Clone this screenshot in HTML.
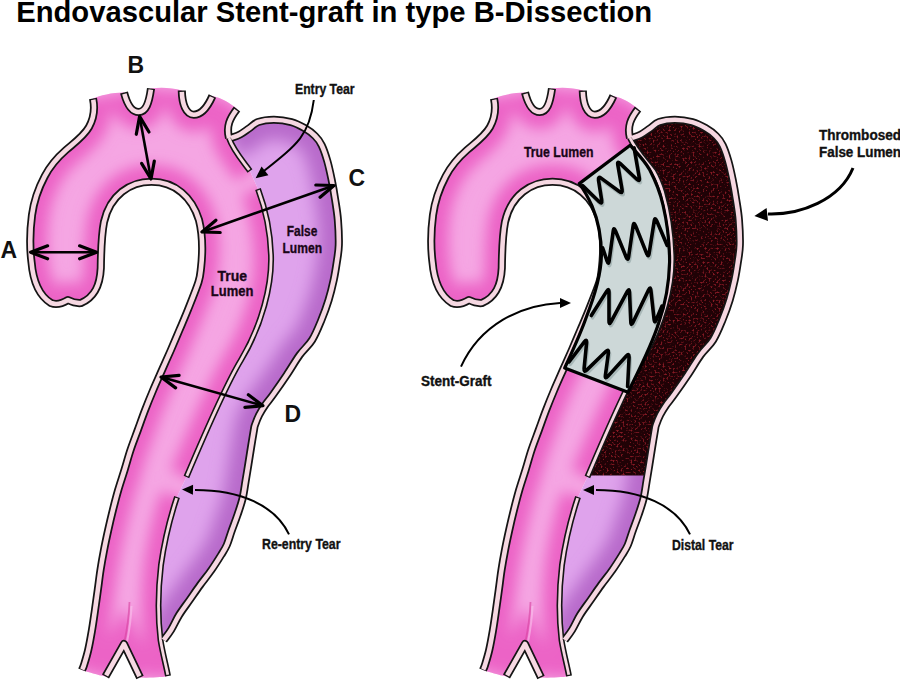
<!DOCTYPE html>
<html><head><meta charset="utf-8">
<style>
html,body{margin:0;padding:0;background:#fff;}
body{width:900px;height:681px;overflow:hidden;position:relative;}
svg{position:absolute;left:0;top:0;}
text{font-family:"Liberation Sans",sans-serif;font-weight:bold;}
</style></head>
<body>
<svg width="900" height="681" viewBox="0 0 900 681">
<defs>
  <filter id="b6" x="-20%" y="-20%" width="140%" height="140%"><feGaussianBlur stdDeviation="6"/></filter>
  <filter id="b7" x="-20%" y="-20%" width="140%" height="140%"><feGaussianBlur stdDeviation="7"/></filter>
  <filter id="b8" x="-20%" y="-20%" width="140%" height="140%"><feGaussianBlur stdDeviation="8"/></filter>
  <filter id="b1" x="-50%" y="-10%" width="200%" height="120%"><feGaussianBlur stdDeviation="0.7"/></filter>
  <filter id="b3" x="-20%" y="-20%" width="140%" height="140%"><feGaussianBlur stdDeviation="3"/></filter>
  <filter id="speck" x="0" y="0" width="100%" height="100%" color-interpolation-filters="sRGB">
    <feTurbulence type="fractalNoise" baseFrequency="0.5" numOctaves="2" seed="7" result="n"/>
    <feColorMatrix in="n" type="matrix" values="0 0 0 0 0.52  0 0 0 0 0.1  0 0 0 0 0.14  5 0 0 0 -2.65" result="d0"/>
    <feGaussianBlur in="d0" stdDeviation="0.45" result="dots"/>
    <feFlood flood-color="#200206" result="bg"/>
    <feMerge><feMergeNode in="bg"/><feMergeNode in="dots"/></feMerge>
  </filter>
  <path id="tl" d="M93,98.5 C100,95.5 112,92.5 124,92.5 C127,104 131,112 138.7,112 C146,112 149,103 151,88.5 C160,87 172,87.5 181.8,90.5 C182,104 186,114.7 193.8,114.7 C202,114.7 208,106 212.4,96 C222,98 230,103 237,109 C230,118 226,126 229,138 C233,150 242,160 250,171 L258,189 C264,205 270,225 271,255 C272,285 262,325 241,360 C224.6,387 203.9,435.7 186.4,477 L177,497 C171,515 164.5,540 161,565 C158,590 157.5,615 160.5,640 C163,655 166,665 168,676 C166,677 150,678 140,677.5 L124,646 L105.5,676.5 C98,675 88,672 82,670 C82.33,669.17 82.97,668.33 84,665 C85.03,661.67 86.87,655.83 88.2,650 C89.53,644.17 90.87,636.67 92,630 C93.13,623.33 94.03,616.67 95,610 C95.97,603.33 96.88,596.67 97.8,590 C98.72,583.33 99.47,576.67 100.5,570 C101.53,563.33 102.72,556.67 104,550 C105.28,543.33 106.72,536.67 108.2,530 C109.68,523.33 111.23,516.67 112.9,510 C114.57,503.33 116.27,496.67 118.2,490 C120.13,483.33 122.45,476.67 124.5,470 C126.55,463.33 128.28,456.67 130.5,450 C132.72,443.33 135.37,436.67 137.8,430 C140.23,423.33 142.53,416.67 145.1,410 C147.67,403.33 150.38,396.67 153.2,390 C156.02,383.33 159.05,376.67 162,370 C164.95,363.33 168,356.67 170.9,350 C173.8,343.33 176.58,336.67 179.4,330 C182.22,323.33 184.62,318 187.8,310 C190.98,302 196.3,289 198.5,282 C200.7,275 200.58,270.33 201,268 C203,250 202,232 199,220 C192,197 175,181.8 151.5,181.8 C130,181.8 110,195 104,222 C101.5,235 101,250 100.8,268 C100,285 95,297 81,303 C76,303.5 72,302 68,300 C63,303 56,305 51,303 C38,295 33,280 31.5,262 C30,250 30,230 32,215 C34,200 39,187 44.7,176.3 C50,166 58,157 66,150 C74,143 84,136 89,127 C94,118 95,108 93,98.5 Z"/>
  <path id="fl" d="M231,138 C232.5,137.42 237.02,136.08 240,134.5 C242.98,132.92 245.87,130.58 248.9,128.5 C251.93,126.42 254.02,123.47 258.2,122 C262.38,120.53 268.48,119.68 274,119.7 C279.52,119.72 286.22,120.7 291.3,122.1 C296.38,123.5 300.53,125.78 304.5,128.1 C308.47,130.42 312.23,133.15 315.1,136 C317.97,138.85 319.67,141.03 321.7,145.2 C323.73,149.37 325.63,155.2 327.3,161 C328.97,166.8 330.38,173.5 331.7,180 C333.02,186.5 334.17,193.33 335.2,200 C336.23,206.67 337.3,212.5 337.9,220 C338.5,227.5 338.98,238 338.8,245 C338.62,252 337.65,256.17 336.8,262 C335.95,267.83 335.07,273.67 333.7,280 C332.33,286.33 330.65,293.33 328.6,300 C326.55,306.67 324.15,313.33 321.4,320 C318.65,326.67 315.73,334.17 312.1,340 C308.47,345.83 303.83,349.17 299.6,355 C295.37,360.83 291.17,368.33 286.7,375 C282.23,381.67 276.38,390 272.8,395 C269.22,400 267.48,401.67 265.2,405 C262.92,408.33 260.8,411.67 259.1,415 C257.4,418.33 255.87,422.5 255,425 C254.13,427.5 254.55,426.33 253.9,430 C253.25,433.67 252.02,441.33 251.1,447 C250.18,452.67 249.32,458.33 248.4,464 C247.48,469.67 246.55,475.33 245.6,481 C244.65,486.67 244.03,492.42 242.7,498 C241.37,503.58 239.45,509 237.6,514.5 C235.75,520 233.4,525.92 231.6,531 C229.8,536.08 228.55,541 226.8,545 C225.05,549 223.67,550.83 221.1,555 C218.53,559.17 214.9,565 211.4,570 C207.9,575 203.73,580 200.1,585 C196.47,590 193.1,595 189.6,600 C186.1,605 182.2,610 179.1,615 C176,620 173.57,625.83 171,630 C168.43,634.17 164.92,638.33 163.7,640 C157.5,615 158,590 161,565 C164.5,540 171,515 177,497 L186.4,477 C203.9,435.7 224.6,387 241,360 C262,325 272,285 271,255 C270,225 264,205 258,189 L250,171 C242,160 233,150 229,138 Z"/>
  <clipPath id="ctl"><use href="#tl"/></clipPath>
  <clipPath id="cfl"><use href="#fl"/></clipPath>
  <clipPath id="cthr"><rect x="0" y="0" width="400" height="475.5"/></clipPath>
  <path id="outf" d="M231,138 C232.5,137.42 237.02,136.08 240,134.5 C242.98,132.92 245.87,130.58 248.9,128.5 C251.93,126.42 254.02,123.47 258.2,122 C262.38,120.53 268.48,119.68 274,119.7 C279.52,119.72 286.22,120.7 291.3,122.1 C296.38,123.5 300.53,125.78 304.5,128.1 C308.47,130.42 312.23,133.15 315.1,136 C317.97,138.85 319.67,141.03 321.7,145.2 C323.73,149.37 325.63,155.2 327.3,161 C328.97,166.8 330.38,173.5 331.7,180 C333.02,186.5 334.17,193.33 335.2,200 C336.23,206.67 337.3,212.5 337.9,220 C338.5,227.5 338.98,238 338.8,245 C338.62,252 337.65,256.17 336.8,262 C335.95,267.83 335.07,273.67 333.7,280 C332.33,286.33 330.65,293.33 328.6,300 C326.55,306.67 324.15,313.33 321.4,320 C318.65,326.67 315.73,334.17 312.1,340 C308.47,345.83 303.83,349.17 299.6,355 C295.37,360.83 291.17,368.33 286.7,375 C282.23,381.67 276.38,390 272.8,395 C269.22,400 267.48,401.67 265.2,405 C262.92,408.33 260.8,411.67 259.1,415 C257.4,418.33 255.87,422.5 255,425 C254.13,427.5 254.55,426.33 253.9,430 C253.25,433.67 252.02,441.33 251.1,447 C250.18,452.67 249.32,458.33 248.4,464 C247.48,469.67 246.55,475.33 245.6,481 C244.65,486.67 244.03,492.42 242.7,498 C241.37,503.58 239.45,509 237.6,514.5 C235.75,520 233.4,525.92 231.6,531 C229.8,536.08 228.55,541 226.8,545 C225.05,549 223.67,550.83 221.1,555 C218.53,559.17 214.9,565 211.4,570 C207.9,575 203.73,580 200.1,585 C196.47,590 193.1,595 189.6,600 C186.1,605 182.2,610 179.1,615 C176,620 173.57,625.83 171,630 C168.43,634.17 164.92,638.33 163.7,640"/>
  <path id="tledge" d="M93,98.5 C95,108 94,118 89,127 C84,136 74,143 66,150 C58,157 50,166 44.7,176.3 C39,187 34,200 32,215 C30,230 30,250 31.5,262 C33,280 38,295 51,303 C56,305 63,303 68,300 C72,302 76,303.5 81,303 C95,297 100,285 100.8,268 C101,250 101.5,235 104,222 C110,195 130,181.8 151.5,181.8 C175,181.8 192,197 199,220 C202,232 203,250 201,268 C200.58,270.33 200.7,275 198.5,282 C196.3,289 190.98,302 187.8,310 C184.62,318 182.22,323.33 179.4,330 C176.58,336.67 173.8,343.33 170.9,350 C168,356.67 164.95,363.33 162,370 C159.05,376.67 156.02,383.33 153.2,390 C150.38,396.67 147.67,403.33 145.1,410 C142.53,416.67 140.23,423.33 137.8,430 C135.37,436.67 132.72,443.33 130.5,450 C128.28,456.67 126.55,463.33 124.5,470 C122.45,476.67 120.13,483.33 118.2,490 C116.27,496.67 114.57,503.33 112.9,510 C111.23,516.67 109.68,523.33 108.2,530 C106.72,536.67 105.28,543.33 104,550 C102.72,556.67 101.53,563.33 100.5,570 C99.47,576.67 98.72,583.33 97.8,590 C96.88,596.67 95.97,603.33 95,610 C94.03,616.67 93.13,623.33 92,630 C90.87,636.67 89.53,644.17 88.2,650 C86.87,655.83 85.03,661.67 84,665 C82.97,668.33 82.33,669.17 82,670 M124,92.5 C127,104 131,112 138.7,112 C146,112 149,103 151,88.5 M181.8,90.5 C182,104 186,114.7 193.8,114.7 C202,114.7 208,106 212.4,96 M237,109 C230,118 226,126 229,138 C233,150 242,160 250,171 M258,189 C264,205 270,225 271,255 C272,285 262,325 241,360 C224.6,387 203.9,435.7 186.4,477 M177,497 C171,515 164.5,540 161,565 C158,590 157.5,615 160.5,640 C163,655 166,665 168,676 M105.5,676.5 L124,644 L140,677.5"/>
  <g id="lumens">
    <use href="#tl" fill="#f5a6e3"/>
    <g clip-path="url(#ctl)"><use href="#tledge" fill="none" stroke="#ec64c6" stroke-width="34" filter="url(#b7)"/></g>
    <use href="#fl" fill="#dfa3ec"/>
    <g clip-path="url(#cfl)"><use href="#outf" fill="none" stroke="#b86acb" stroke-width="40" filter="url(#b8)"/></g>
    <path d="M129.5,602 C129,618 126.5,632 124,644" fill="none" stroke="#d8409f" stroke-width="1.8" opacity="0.6" filter="url(#b1)"/><path d="M131.5,606 C131,620 129,632 127,642" fill="none" stroke="#fbc4ee" stroke-width="2" opacity="0.6" filter="url(#b1)"/>
  </g>
</defs>
<rect width="900" height="681" fill="#fff"/>
<text x="16.2" y="22" font-size="29.3" fill="#000" textLength="636" lengthAdjust="spacingAndGlyphs">Endovascular Stent-graft in type B-Dissection</text>

<!-- LEFT -->
<use href="#lumens"/>
<g fill="none" stroke-linejoin="round"><path d="M93,98.5 C95,108 94,118 89,127 C84,136 74,143 66,150 C58,157 50,166 44.7,176.3 C39,187 34,200 32,215 C30,230 30,250 31.5,262 C33,280 38,295 51,303 C56,305 63,303 68,300 C72,302 76,303.5 81,303 C95,297 100,285 100.8,268 C101,250 101.5,235 104,222 C110,195 130,181.8 151.5,181.8 C175,181.8 192,197 199,220 C202,232 203,250 201,268 C200.58,270.33 200.7,275 198.5,282 C196.3,289 190.98,302 187.8,310 C184.62,318 182.22,323.33 179.4,330 C176.58,336.67 173.8,343.33 170.9,350 C168,356.67 164.95,363.33 162,370 C159.05,376.67 156.02,383.33 153.2,390 C150.38,396.67 147.67,403.33 145.1,410 C142.53,416.67 140.23,423.33 137.8,430 C135.37,436.67 132.72,443.33 130.5,450 C128.28,456.67 126.55,463.33 124.5,470 C122.45,476.67 120.13,483.33 118.2,490 C116.27,496.67 114.57,503.33 112.9,510 C111.23,516.67 109.68,523.33 108.2,530 C106.72,536.67 105.28,543.33 104,550 C102.72,556.67 101.53,563.33 100.5,570 C99.47,576.67 98.72,583.33 97.8,590 C96.88,596.67 95.97,603.33 95,610 C94.03,616.67 93.13,623.33 92,630 C90.87,636.67 89.53,644.17 88.2,650 C86.87,655.83 85.03,661.67 84,665 C82.97,668.33 82.33,669.17 82,670" stroke="#151515" stroke-width="8.1"/><path d="M124,92.5 C127,104 131,112 138.7,112 C146,112 149,103 151,88.5" stroke="#151515" stroke-width="8.1"/><path d="M181.8,90.5 C182,104 186,114.7 193.8,114.7 C202,114.7 208,106 212.4,96" stroke="#151515" stroke-width="8.1"/><path d="M237,109 C230,118 226,126 229,138" stroke="#151515" stroke-width="8.1"/><path d="M229,138 C233,150 242,160 250,171" stroke="#151515" stroke-width="6.0"/><path d="M258,189 C264,205 270,225 271,255 C272,285 262,325 241,360 C224.6,387 203.9,435.7 186.4,477" stroke="#151515" stroke-width="6.0"/><path d="M231,138 C232.5,137.42 237.02,136.08 240,134.5 C242.98,132.92 245.87,130.58 248.9,128.5 C251.93,126.42 254.02,123.47 258.2,122 C262.38,120.53 268.48,119.68 274,119.7 C279.52,119.72 286.22,120.7 291.3,122.1 C296.38,123.5 300.53,125.78 304.5,128.1 C308.47,130.42 312.23,133.15 315.1,136 C317.97,138.85 319.67,141.03 321.7,145.2 C323.73,149.37 325.63,155.2 327.3,161 C328.97,166.8 330.38,173.5 331.7,180 C333.02,186.5 334.17,193.33 335.2,200 C336.23,206.67 337.3,212.5 337.9,220 C338.5,227.5 338.98,238 338.8,245 C338.62,252 337.65,256.17 336.8,262 C335.95,267.83 335.07,273.67 333.7,280 C332.33,286.33 330.65,293.33 328.6,300 C326.55,306.67 324.15,313.33 321.4,320 C318.65,326.67 315.73,334.17 312.1,340 C308.47,345.83 303.83,349.17 299.6,355 C295.37,360.83 291.17,368.33 286.7,375 C282.23,381.67 276.38,390 272.8,395 C269.22,400 267.48,401.67 265.2,405 C262.92,408.33 260.8,411.67 259.1,415 C257.4,418.33 255.87,422.5 255,425 C254.13,427.5 254.55,426.33 253.9,430 C253.25,433.67 252.02,441.33 251.1,447 C250.18,452.67 249.32,458.33 248.4,464 C247.48,469.67 246.55,475.33 245.6,481 C244.65,486.67 244.03,492.42 242.7,498 C241.37,503.58 239.45,509 237.6,514.5 C235.75,520 233.4,525.92 231.6,531 C229.8,536.08 228.55,541 226.8,545 C225.05,549 223.67,550.83 221.1,555 C218.53,559.17 214.9,565 211.4,570 C207.9,575 203.73,580 200.1,585 C196.47,590 193.1,595 189.6,600 C186.1,605 182.2,610 179.1,615 C176,620 173.57,625.83 171,630 C168.43,634.17 164.92,638.33 163.7,640" stroke="#151515" stroke-width="8.1"/><path d="M177,497 C171,515 164.5,540 161,565 C158,590 157.5,615 160.5,640 C163,655 166,665 168,676" stroke="#151515" stroke-width="6.0"/><path d="M105.5,676.5 L124,644 L140,677.5" stroke="#151515" stroke-width="8.1"/><path d="M93,98.5 C95,108 94,118 89,127 C84,136 74,143 66,150 C58,157 50,166 44.7,176.3 C39,187 34,200 32,215 C30,230 30,250 31.5,262 C33,280 38,295 51,303 C56,305 63,303 68,300 C72,302 76,303.5 81,303 C95,297 100,285 100.8,268 C101,250 101.5,235 104,222 C110,195 130,181.8 151.5,181.8 C175,181.8 192,197 199,220 C202,232 203,250 201,268 C200.58,270.33 200.7,275 198.5,282 C196.3,289 190.98,302 187.8,310 C184.62,318 182.22,323.33 179.4,330 C176.58,336.67 173.8,343.33 170.9,350 C168,356.67 164.95,363.33 162,370 C159.05,376.67 156.02,383.33 153.2,390 C150.38,396.67 147.67,403.33 145.1,410 C142.53,416.67 140.23,423.33 137.8,430 C135.37,436.67 132.72,443.33 130.5,450 C128.28,456.67 126.55,463.33 124.5,470 C122.45,476.67 120.13,483.33 118.2,490 C116.27,496.67 114.57,503.33 112.9,510 C111.23,516.67 109.68,523.33 108.2,530 C106.72,536.67 105.28,543.33 104,550 C102.72,556.67 101.53,563.33 100.5,570 C99.47,576.67 98.72,583.33 97.8,590 C96.88,596.67 95.97,603.33 95,610 C94.03,616.67 93.13,623.33 92,630 C90.87,636.67 89.53,644.17 88.2,650 C86.87,655.83 85.03,661.67 84,665 C82.97,668.33 82.33,669.17 82,670" stroke="#f6d8e2" stroke-width="4.6" stroke-dasharray="0 1.30 951.98 500"/><path d="M124,92.5 C127,104 131,112 138.7,112 C146,112 149,103 151,88.5" stroke="#f6d8e2" stroke-width="4.6" stroke-dasharray="0 1.30 52.37 500"/><path d="M181.8,90.5 C182,104 186,114.7 193.8,114.7 C202,114.7 208,106 212.4,96" stroke="#f6d8e2" stroke-width="4.6" stroke-dasharray="0 1.30 54.78 500"/><path d="M237,109 C230,118 226,126 229,138" stroke="#f6d8e2" stroke-width="4.6" stroke-dasharray="0 1.30 30.08 500"/><path d="M229,138 C233,150 242,160 250,171" stroke="#f6d8e2" stroke-width="2.8" stroke-dasharray="0 0.00 37.99 500"/><path d="M258,189 C264,205 270,225 271,255 C272,285 262,325 241,360 C224.6,387 203.9,435.7 186.4,477" stroke="#f6d8e2" stroke-width="2.8" stroke-dasharray="0 1.30 304.77 500"/><path d="M231,138 C232.5,137.42 237.02,136.08 240,134.5 C242.98,132.92 245.87,130.58 248.9,128.5 C251.93,126.42 254.02,123.47 258.2,122 C262.38,120.53 268.48,119.68 274,119.7 C279.52,119.72 286.22,120.7 291.3,122.1 C296.38,123.5 300.53,125.78 304.5,128.1 C308.47,130.42 312.23,133.15 315.1,136 C317.97,138.85 319.67,141.03 321.7,145.2 C323.73,149.37 325.63,155.2 327.3,161 C328.97,166.8 330.38,173.5 331.7,180 C333.02,186.5 334.17,193.33 335.2,200 C336.23,206.67 337.3,212.5 337.9,220 C338.5,227.5 338.98,238 338.8,245 C338.62,252 337.65,256.17 336.8,262 C335.95,267.83 335.07,273.67 333.7,280 C332.33,286.33 330.65,293.33 328.6,300 C326.55,306.67 324.15,313.33 321.4,320 C318.65,326.67 315.73,334.17 312.1,340 C308.47,345.83 303.83,349.17 299.6,355 C295.37,360.83 291.17,368.33 286.7,375 C282.23,381.67 276.38,390 272.8,395 C269.22,400 267.48,401.67 265.2,405 C262.92,408.33 260.8,411.67 259.1,415 C257.4,418.33 255.87,422.5 255,425 C254.13,427.5 254.55,426.33 253.9,430 C253.25,433.67 252.02,441.33 251.1,447 C250.18,452.67 249.32,458.33 248.4,464 C247.48,469.67 246.55,475.33 245.6,481 C244.65,486.67 244.03,492.42 242.7,498 C241.37,503.58 239.45,509 237.6,514.5 C235.75,520 233.4,525.92 231.6,531 C229.8,536.08 228.55,541 226.8,545 C225.05,549 223.67,550.83 221.1,555 C218.53,559.17 214.9,565 211.4,570 C207.9,575 203.73,580 200.1,585 C196.47,590 193.1,595 189.6,600 C186.1,605 182.2,610 179.1,615 C176,620 173.57,625.83 171,630 C168.43,634.17 164.92,638.33 163.7,640" stroke="#f6d8e2" stroke-width="4.6"/><path d="M177,497 C171,515 164.5,540 161,565 C158,590 157.5,615 160.5,640 C163,655 166,665 168,676" stroke="#f6d8e2" stroke-width="2.8" stroke-dasharray="0 1.30 179.31 500"/><path d="M105.5,676.5 L124,644 L140,677.5" stroke="#f6d8e2" stroke-width="4.6" stroke-dasharray="0 1.30 71.92 500"/></g>

<!-- RIGHT -->
<g transform="translate(401,0)">
  <use href="#lumens"/>
  <g clip-path="url(#cthr)"><g clip-path="url(#cfl)"><rect x="150" y="100" width="210" height="380" filter="url(#speck)"/></g></g>
  <g fill="none" stroke-linejoin="round"><path d="M93,98.5 C95,108 94,118 89,127 C84,136 74,143 66,150 C58,157 50,166 44.7,176.3 C39,187 34,200 32,215 C30,230 30,250 31.5,262 C33,280 38,295 51,303 C56,305 63,303 68,300 C72,302 76,303.5 81,303 C95,297 100,285 100.8,268 C101,250 101.5,235 104,222 C110,195 130,181.8 151.5,181.8 C175,181.8 192,197 199,220 C202,232 203,250 201,268 C200.58,270.33 200.7,275 198.5,282 C196.3,289 190.98,302 187.8,310 C184.62,318 182.22,323.33 179.4,330 C176.58,336.67 173.8,343.33 170.9,350 C168,356.67 164.95,363.33 162,370 C159.05,376.67 156.02,383.33 153.2,390 C150.38,396.67 147.67,403.33 145.1,410 C142.53,416.67 140.23,423.33 137.8,430 C135.37,436.67 132.72,443.33 130.5,450 C128.28,456.67 126.55,463.33 124.5,470 C122.45,476.67 120.13,483.33 118.2,490 C116.27,496.67 114.57,503.33 112.9,510 C111.23,516.67 109.68,523.33 108.2,530 C106.72,536.67 105.28,543.33 104,550 C102.72,556.67 101.53,563.33 100.5,570 C99.47,576.67 98.72,583.33 97.8,590 C96.88,596.67 95.97,603.33 95,610 C94.03,616.67 93.13,623.33 92,630 C90.87,636.67 89.53,644.17 88.2,650 C86.87,655.83 85.03,661.67 84,665 C82.97,668.33 82.33,669.17 82,670" stroke="#151515" stroke-width="8.1"/><path d="M124,92.5 C127,104 131,112 138.7,112 C146,112 149,103 151,88.5" stroke="#151515" stroke-width="8.1"/><path d="M181.8,90.5 C182,104 186,114.7 193.8,114.7 C202,114.7 208,106 212.4,96" stroke="#151515" stroke-width="8.1"/><path d="M237,109 C230,118 226,126 229,138" stroke="#151515" stroke-width="8.1"/><path d="M229,138 C235,151 245,161 252.5,171 C256,177 259,184 261.5,192 C265.5,206 270,225 271,255 C272,285 262,325 241,360 C224.6,387 203.9,435.7 186.4,477" stroke="#151515" stroke-width="6.0"/><path d="M231,138 C232.5,137.42 237.02,136.08 240,134.5 C242.98,132.92 245.87,130.58 248.9,128.5 C251.93,126.42 254.02,123.47 258.2,122 C262.38,120.53 268.48,119.68 274,119.7 C279.52,119.72 286.22,120.7 291.3,122.1 C296.38,123.5 300.53,125.78 304.5,128.1 C308.47,130.42 312.23,133.15 315.1,136 C317.97,138.85 319.67,141.03 321.7,145.2 C323.73,149.37 325.63,155.2 327.3,161 C328.97,166.8 330.38,173.5 331.7,180 C333.02,186.5 334.17,193.33 335.2,200 C336.23,206.67 337.3,212.5 337.9,220 C338.5,227.5 338.98,238 338.8,245 C338.62,252 337.65,256.17 336.8,262 C335.95,267.83 335.07,273.67 333.7,280 C332.33,286.33 330.65,293.33 328.6,300 C326.55,306.67 324.15,313.33 321.4,320 C318.65,326.67 315.73,334.17 312.1,340 C308.47,345.83 303.83,349.17 299.6,355 C295.37,360.83 291.17,368.33 286.7,375 C282.23,381.67 276.38,390 272.8,395 C269.22,400 267.48,401.67 265.2,405 C262.92,408.33 260.8,411.67 259.1,415 C257.4,418.33 255.87,422.5 255,425 C254.13,427.5 254.55,426.33 253.9,430 C253.25,433.67 252.02,441.33 251.1,447 C250.18,452.67 249.32,458.33 248.4,464 C247.48,469.67 246.55,475.33 245.6,481 C244.65,486.67 244.03,492.42 242.7,498 C241.37,503.58 239.45,509 237.6,514.5 C235.75,520 233.4,525.92 231.6,531 C229.8,536.08 228.55,541 226.8,545 C225.05,549 223.67,550.83 221.1,555 C218.53,559.17 214.9,565 211.4,570 C207.9,575 203.73,580 200.1,585 C196.47,590 193.1,595 189.6,600 C186.1,605 182.2,610 179.1,615 C176,620 173.57,625.83 171,630 C168.43,634.17 164.92,638.33 163.7,640" stroke="#151515" stroke-width="8.1"/><path d="M177,497 C171,515 164.5,540 161,565 C158,590 157.5,615 160.5,640 C163,655 166,665 168,676" stroke="#151515" stroke-width="6.0"/><path d="M105.5,676.5 L124,644 L140,677.5" stroke="#151515" stroke-width="8.1"/><path d="M93,98.5 C95,108 94,118 89,127 C84,136 74,143 66,150 C58,157 50,166 44.7,176.3 C39,187 34,200 32,215 C30,230 30,250 31.5,262 C33,280 38,295 51,303 C56,305 63,303 68,300 C72,302 76,303.5 81,303 C95,297 100,285 100.8,268 C101,250 101.5,235 104,222 C110,195 130,181.8 151.5,181.8 C175,181.8 192,197 199,220 C202,232 203,250 201,268 C200.58,270.33 200.7,275 198.5,282 C196.3,289 190.98,302 187.8,310 C184.62,318 182.22,323.33 179.4,330 C176.58,336.67 173.8,343.33 170.9,350 C168,356.67 164.95,363.33 162,370 C159.05,376.67 156.02,383.33 153.2,390 C150.38,396.67 147.67,403.33 145.1,410 C142.53,416.67 140.23,423.33 137.8,430 C135.37,436.67 132.72,443.33 130.5,450 C128.28,456.67 126.55,463.33 124.5,470 C122.45,476.67 120.13,483.33 118.2,490 C116.27,496.67 114.57,503.33 112.9,510 C111.23,516.67 109.68,523.33 108.2,530 C106.72,536.67 105.28,543.33 104,550 C102.72,556.67 101.53,563.33 100.5,570 C99.47,576.67 98.72,583.33 97.8,590 C96.88,596.67 95.97,603.33 95,610 C94.03,616.67 93.13,623.33 92,630 C90.87,636.67 89.53,644.17 88.2,650 C86.87,655.83 85.03,661.67 84,665 C82.97,668.33 82.33,669.17 82,670" stroke="#f6d8e2" stroke-width="4.6" stroke-dasharray="0 1.30 951.98 500"/><path d="M124,92.5 C127,104 131,112 138.7,112 C146,112 149,103 151,88.5" stroke="#f6d8e2" stroke-width="4.6" stroke-dasharray="0 1.30 52.37 500"/><path d="M181.8,90.5 C182,104 186,114.7 193.8,114.7 C202,114.7 208,106 212.4,96" stroke="#f6d8e2" stroke-width="4.6" stroke-dasharray="0 1.30 54.78 500"/><path d="M237,109 C230,118 226,126 229,138" stroke="#f6d8e2" stroke-width="4.6" stroke-dasharray="0 1.30 30.08 500"/><path d="M229,138 C235,151 245,161 252.5,171 C256,177 259,184 261.5,192 C265.5,206 270,225 271,255 C272,285 262,325 241,360 C224.6,387 203.9,435.7 186.4,477" stroke="#f6d8e2" stroke-width="2.8" stroke-dasharray="0 0.00 365.88 500"/><path d="M231,138 C232.5,137.42 237.02,136.08 240,134.5 C242.98,132.92 245.87,130.58 248.9,128.5 C251.93,126.42 254.02,123.47 258.2,122 C262.38,120.53 268.48,119.68 274,119.7 C279.52,119.72 286.22,120.7 291.3,122.1 C296.38,123.5 300.53,125.78 304.5,128.1 C308.47,130.42 312.23,133.15 315.1,136 C317.97,138.85 319.67,141.03 321.7,145.2 C323.73,149.37 325.63,155.2 327.3,161 C328.97,166.8 330.38,173.5 331.7,180 C333.02,186.5 334.17,193.33 335.2,200 C336.23,206.67 337.3,212.5 337.9,220 C338.5,227.5 338.98,238 338.8,245 C338.62,252 337.65,256.17 336.8,262 C335.95,267.83 335.07,273.67 333.7,280 C332.33,286.33 330.65,293.33 328.6,300 C326.55,306.67 324.15,313.33 321.4,320 C318.65,326.67 315.73,334.17 312.1,340 C308.47,345.83 303.83,349.17 299.6,355 C295.37,360.83 291.17,368.33 286.7,375 C282.23,381.67 276.38,390 272.8,395 C269.22,400 267.48,401.67 265.2,405 C262.92,408.33 260.8,411.67 259.1,415 C257.4,418.33 255.87,422.5 255,425 C254.13,427.5 254.55,426.33 253.9,430 C253.25,433.67 252.02,441.33 251.1,447 C250.18,452.67 249.32,458.33 248.4,464 C247.48,469.67 246.55,475.33 245.6,481 C244.65,486.67 244.03,492.42 242.7,498 C241.37,503.58 239.45,509 237.6,514.5 C235.75,520 233.4,525.92 231.6,531 C229.8,536.08 228.55,541 226.8,545 C225.05,549 223.67,550.83 221.1,555 C218.53,559.17 214.9,565 211.4,570 C207.9,575 203.73,580 200.1,585 C196.47,590 193.1,595 189.6,600 C186.1,605 182.2,610 179.1,615 C176,620 173.57,625.83 171,630 C168.43,634.17 164.92,638.33 163.7,640" stroke="#f6d8e2" stroke-width="4.6"/><path d="M177,497 C171,515 164.5,540 161,565 C158,590 157.5,615 160.5,640 C163,655 166,665 168,676" stroke="#f6d8e2" stroke-width="2.8" stroke-dasharray="0 1.30 179.31 500"/><path d="M105.5,676.5 L124,644 L140,677.5" stroke="#f6d8e2" stroke-width="4.6" stroke-dasharray="0 1.30 71.92 500"/></g>
</g>
<!-- stent -->
<path d="M579.3,183.6 L630.2,145.3 C636,152 644,160 649.3,169.1 C655,180 660,192 663,205 C667,222 669.6,240 669.6,262 C669,285 665,305 659,322 C652,345 640,368 628,392.3 L564.7,368 C572,352 580,335 586,318 C595,295 601,275 601.4,256 C601.5,235 598,220 592,206 C588,197 584,190 579.3,183.6 Z" fill="#cdd8d8"/>
<g fill="none" stroke-linejoin="round" stroke-linecap="round">
  <g stroke="#9fb0b0" stroke-width="3.4" transform="translate(1.2,2.4)" opacity="0.8"><path d="M582.6,185.6 L599.2,201.7 Q602.4,204.8 601.7,200.4 L598.5,180.1 Q597.8,175.7 601.4,178.4 L619.3,191.5 Q622.9,194.2 622.1,189.8 L617.8,164.9 Q617.0,160.5 620.3,163.6 L636.8,179.2 Q640.1,182.3 639.3,177.9 L634.1,147.9"/><path d="M602.6,247.9 L607.1,261.2 Q608.5,265.5 609.1,261.0 L613.2,231.2 Q613.8,226.7 615.5,230.9 L626.2,257.2 Q627.9,261.4 628.6,256.9 L633.1,225.9 Q633.8,221.4 635.5,225.6 L646.7,253.7 Q648.4,257.9 649.1,253.5 L654.2,221.1 Q654.9,216.7 656.7,220.8 L667.2,245.5"/><path d="M591.3,315.5 L606.6,291.4 Q609.0,287.6 609.0,292.1 L609.0,321.1 Q609.0,325.6 611.1,321.6 L627.2,291.6 Q629.3,287.6 629.5,292.1 L630.8,322.0 Q631.0,326.5 632.9,322.4 L648.5,290.0 Q650.4,285.9 650.9,290.4 L654.1,319.5 Q654.6,324.0 656.3,319.8 L662.0,306.0"/><path d="M569.0,362.0 L584.3,341.9 Q587.0,338.3 586.6,342.8 L584.1,368.5 Q583.7,373.0 586.9,369.9 L605.8,351.5 Q609.0,348.4 608.4,352.9 L605.4,375.2 Q604.8,379.7 607.8,376.4 L626.3,356.0 Q629.3,352.7 629.1,357.2 L627.6,386.5"/></g>
  <g stroke="#000" stroke-width="3.6"><path d="M582.6,185.6 L599.2,201.7 Q602.4,204.8 601.7,200.4 L598.5,180.1 Q597.8,175.7 601.4,178.4 L619.3,191.5 Q622.9,194.2 622.1,189.8 L617.8,164.9 Q617.0,160.5 620.3,163.6 L636.8,179.2 Q640.1,182.3 639.3,177.9 L634.1,147.9"/><path d="M602.6,247.9 L607.1,261.2 Q608.5,265.5 609.1,261.0 L613.2,231.2 Q613.8,226.7 615.5,230.9 L626.2,257.2 Q627.9,261.4 628.6,256.9 L633.1,225.9 Q633.8,221.4 635.5,225.6 L646.7,253.7 Q648.4,257.9 649.1,253.5 L654.2,221.1 Q654.9,216.7 656.7,220.8 L667.2,245.5"/><path d="M591.3,315.5 L606.6,291.4 Q609.0,287.6 609.0,292.1 L609.0,321.1 Q609.0,325.6 611.1,321.6 L627.2,291.6 Q629.3,287.6 629.5,292.1 L630.8,322.0 Q631.0,326.5 632.9,322.4 L648.5,290.0 Q650.4,285.9 650.9,290.4 L654.1,319.5 Q654.6,324.0 656.3,319.8 L662.0,306.0"/><path d="M569.0,362.0 L584.3,341.9 Q587.0,338.3 586.6,342.8 L584.1,368.5 Q583.7,373.0 586.9,369.9 L605.8,351.5 Q609.0,348.4 608.4,352.9 L605.4,375.2 Q604.8,379.7 607.8,376.4 L626.3,356.0 Q629.3,352.7 629.1,357.2 L627.6,386.5"/></g>
</g>
<path d="M579.3,183.6 L630.2,145.3 C636,152 644,160 649.3,169.1 C655,180 660,192 663,205 C667,222 669.6,240 669.6,262 C669,285 665,305 659,322 C652,345 640,368 628,392.3 L564.7,368 C572,352 580,335 586,318 C595,295 601,275 601.4,256 C601.5,235 598,220 592,206 C588,197 584,190 579.3,183.6 Z" fill="none" stroke="#000" stroke-width="3.2" stroke-linejoin="round"/>

<!-- measurement arrows -->
<path d="M30.6,252.3 L96.6,252.3" stroke="#000" stroke-width="2.6" fill="none"/><path d="M47.6,245.8 L30.6,252.3 L47.6,258.8 M79.6,258.8 L96.6,252.3 L79.6,245.8" stroke="#000" stroke-width="3.2" fill="none" stroke-linecap="round" stroke-linejoin="round"/>
<path d="M139.6,116.4 L151,179" stroke="#000" stroke-width="2.6" fill="none"/><path d="M149.0,132.0 L139.6,116.4 L136.3,134.3 M141.6,163.4 L151.0,179.0 L154.3,161.1" stroke="#000" stroke-width="3.2" fill="none" stroke-linecap="round" stroke-linejoin="round"/>
<path d="M334,185.5 L202,232" stroke="#000" stroke-width="2.6" fill="none"/><path d="M320.1,197.3 L334.0,185.5 L315.8,185.0 M215.9,220.2 L202.0,232.0 L220.2,232.5" stroke="#000" stroke-width="3.2" fill="none" stroke-linecap="round" stroke-linejoin="round"/>
<path d="M161,377 L263,405.7" stroke="#000" stroke-width="2.6" fill="none"/><path d="M179.1,375.3 L161.0,377.0 L175.6,387.9 M244.9,407.4 L263.0,405.7 L248.4,394.8" stroke="#000" stroke-width="3.2" fill="none" stroke-linecap="round" stroke-linejoin="round"/>

<!-- labels -->
<text x="0.5" y="257.6" font-size="23" fill="#111">A</text>
<text x="127.5" y="72.5" font-size="23" fill="#111">B</text>
<text x="348.5" y="186.4" font-size="23" fill="#111">C</text>
<text x="284.5" y="421.7" font-size="23" fill="#111">D</text>
<text x="295" y="93.7" font-size="14.4" fill="#111" stroke="#111" stroke-width="0.35" textLength="59.5" lengthAdjust="spacingAndGlyphs">Entry Tear</text>
<text x="217.5" y="280.7" font-size="14" fill="#1a0618" stroke="#1a0618" stroke-width="0.35" textLength="29.5" lengthAdjust="spacingAndGlyphs">True</text>
<text x="210.8" y="296.3" font-size="14" fill="#1a0618" stroke="#1a0618" stroke-width="0.35" textLength="42.5" lengthAdjust="spacingAndGlyphs">Lumen</text>
<text x="286.8" y="236" font-size="14" fill="#1a0618" stroke="#1a0618" stroke-width="0.35" textLength="30.5" lengthAdjust="spacingAndGlyphs">False</text>
<text x="282.5" y="253" font-size="14" fill="#1a0618" stroke="#1a0618" stroke-width="0.35" textLength="39.5" lengthAdjust="spacingAndGlyphs">Lumen</text>
<text x="524" y="157.2" font-size="14.5" fill="#1a0618" stroke="#1a0618" stroke-width="0.35" textLength="69.5" lengthAdjust="spacingAndGlyphs">True Lumen</text>
<text x="262" y="549" font-size="14.4" fill="#111" stroke="#111" stroke-width="0.35" textLength="78.5" lengthAdjust="spacingAndGlyphs">Re-entry Tear</text>
<text x="672" y="550" font-size="14.4" fill="#111" stroke="#111" stroke-width="0.35" textLength="61.5" lengthAdjust="spacingAndGlyphs">Distal Tear</text>
<text x="421" y="385.5" font-size="14" fill="#111" stroke="#111" stroke-width="0.35" textLength="70.5" lengthAdjust="spacingAndGlyphs">Stent-Graft</text>
<text x="819" y="140" font-size="14" fill="#111" stroke="#111" stroke-width="0.35" textLength="82" lengthAdjust="spacingAndGlyphs">Thrombosed</text>
<text x="819" y="156.5" font-size="14" fill="#111" stroke="#111" stroke-width="0.35" textLength="82" lengthAdjust="spacingAndGlyphs">False Lumen</text>

<!-- pointer arrows -->
<path d="M313.8,100 C309.5,134.6 298.9,143.3 262,172.5" stroke="#000" stroke-width="2" fill="none"/><path d="M261.6,166.6 L255.6,178.3 L268.4,175.2 Z" fill="#000"/>
<path d="M289,534.4 C275,505 240,490 195,490" stroke="#000" stroke-width="2" fill="none"/><path d="M193.1,484.8 L182.0,489.5 L192.9,494.8 Z" fill="#000"/>
<path d="M690,534.4 C676,505 641,490 596,490" stroke="#000" stroke-width="2" fill="none"/><path d="M594.0,485.0 L583.0,490.0 L594.0,495.0 Z" fill="#000"/>
<path d="M461,366.7 C480,325 520,305 560,303" stroke="#000" stroke-width="2" fill="none"/><path d="M560.0,308.0 L571.0,303.0 L560.0,298.0 Z" fill="#000"/>
<path d="M853,168 C840,200 800,215 768,214" stroke="#000" stroke-width="3" fill="none"/><path d="M766.6,208.1 L754.4,216.0 L768.0,221.1 Z" fill="#000"/>
</svg>
</body></html>
